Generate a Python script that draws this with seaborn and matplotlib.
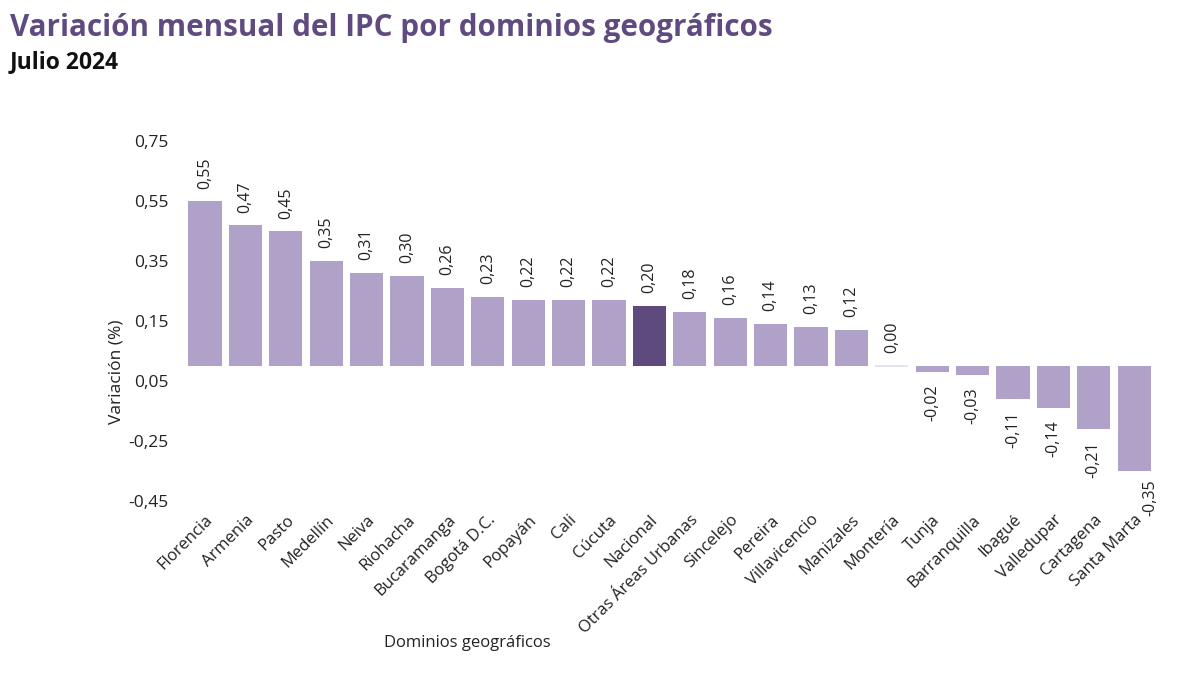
import matplotlib
matplotlib.use("Agg")
import matplotlib.pyplot as plt
import seaborn as sns
import pandas as pd

categories = ["Florencia", "Armenia", "Pasto", "Medellín", "Neiva", "Riohacha",
              "Bucaramanga", "Bogotá D.C.", "Popayán", "Cali", "Cúcuta", "Nacional",
              "Otras Áreas Urbanas", "Sincelejo", "Pereira", "Villavicencio", "Manizales",
              "Montería", "Tunja", "Barranquilla", "Ibagué", "Valledupar", "Cartagena",
              "Santa Marta"]
values = [0.55, 0.47, 0.45, 0.35, 0.31, 0.30, 0.26, 0.23, 0.22, 0.22, 0.22, 0.20,
          0.18, 0.16, 0.14, 0.13, 0.12, 0.00, -0.02, -0.03, -0.11, -0.14, -0.21, -0.35]
ytick_values = [0.75, 0.55, 0.35, 0.15, -0.05, -0.25, -0.45]
ytick_labels = ["0,75", "0,55", "0,35", "0,15", "0,05", "-0,25", "-0,45"]
highlight = "Nacional"

LIGHT = "#b0a1c8"
DARK = "#5f4a7e"
TITLE_C = "#5f4b80"
TXT = "#222222"

df = pd.DataFrame({"dominio": categories, "var": values})
palette = {c: (DARK if c == highlight else LIGHT) for c in categories}

sns.set_theme(style="white")
plt.rcParams["font.family"] = ["Open Sans", "DejaVu Sans"]

fig = plt.figure(figsize=(12, 6.75), dpi=100)
ax = fig.add_axes([0.154, 0.258, 0.808, 0.533])

sns.barplot(data=df, x="dominio", y="var", hue="dominio", palette=palette,
            legend=False, width=0.82, ax=ax, saturation=1, linewidth=0)

# thin line for zero-height bar
for p in ax.patches:
    if abs(p.get_height()) < 1e-9:
        ax.hlines(0, p.get_x(), p.get_x() + p.get_width(), color="#e2dbea", lw=1.2)

n = len(categories)
for i, v in enumerate(values):
    txt = f"{v:.2f}".replace(".", ",")
    if v >= 0:
        ax.annotate(txt, (i, v), xytext=(0, 9), textcoords="offset points",
                    rotation=90, ha="center", va="bottom", fontsize=11.5, color=TXT)
    else:
        dx = 12 if i == n - 1 else 0
        dy = -6 if i == n - 1 else -9
        ax.annotate(txt, (i, v), xytext=(dx, dy), textcoords="offset points",
                    rotation=90, ha="center", va="top", fontsize=11.5, color=TXT)

ax.set_ylim(-0.45, 0.75)
ax.set_xlim(-0.5, n - 0.5)
ax.set_yticks(ytick_values)
ax.set_yticklabels(ytick_labels, fontsize=12.5, color=TXT)
ax.set_xticks(range(n))
ax.set_xticklabels(categories, rotation=45, ha="right", rotation_mode="anchor",
                   fontsize=12, color=TXT)
ax.tick_params(axis="x", pad=8, length=0)
ax.tick_params(axis="y", pad=12, length=0)
for s in ax.spines.values():
    s.set_visible(False)

ax.set_xlabel("")
ax.set_ylabel("Variación (%)", fontsize=12.5, color=TXT)
ax.yaxis.set_label_coords(-0.062, 0.36)

fig.text(467 / 1200, 1 - 643 / 675, "Dominios geográficos", ha="center", va="center",
         fontsize=12, color=TXT)

fig.text(0.008, 1 - 28 / 675, "Variación mensual del IPC por dominios geográficos",
         ha="left", va="center", fontsize=21.3, fontweight="bold", color=TITLE_C)
fig.text(0.008, 1 - 62 / 675, "Julio 2024", ha="left", va="center",
         fontsize=16.5, fontweight="bold", color="#111111")

fig.savefig("out.png", dpi=100)
